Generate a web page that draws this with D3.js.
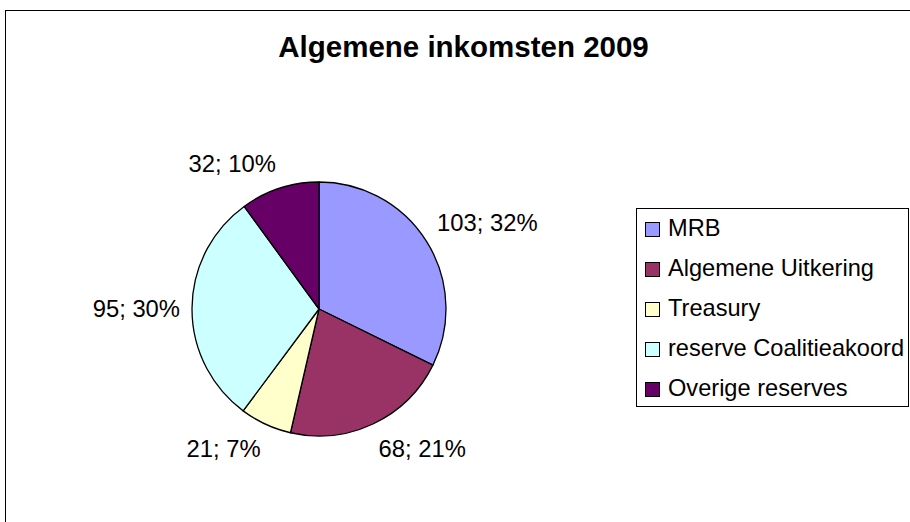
<!DOCTYPE html>
<html>
<head>
<meta charset="utf-8">
<script src="https://cdn.jsdelivr.net/npm/d3@7"></script>
<style>
  html, body { margin: 0; padding: 0; background: #fff; }
  svg { display: block; }
  text { font-family: Arial, "Liberation Sans", sans-serif; fill: #000; }
</style>
</head>
<body>
<svg id="chart" width="910" height="522"></svg>
<script>
const title = "Algemene inkomsten 2009";
const categories = ["MRB", "Algemene Uitkering", "Treasury", "reserve Coalitieakoord", "Overige reserves"];
const values = [103, 68, 21, 95, 32];
const percentLabels = ["32%", "21%", "7%", "30%", "10%"];
const colors = ["#9999FF", "#993366", "#FFFFCC", "#CCFFFF", "#660066"];

const svg = d3.select("#chart");

// chart border
svg.append("rect")
  .attr("x", 5.5).attr("y", 10.5)
  .attr("width", 940).attr("height", 540)
  .attr("fill", "#fff").attr("stroke", "#000").attr("stroke-width", 1);

// title
svg.append("text")
  .attr("x", 463.5).attr("y", 57)
  .attr("text-anchor", "middle")
  .attr("font-size", 29.5).attr("font-weight", "bold")
  .text(title);

// pie
const cx = 319, cy = 309, r = 127;
const data = categories.map((c, i) => ({ name: c, value: values[i], pct: percentLabels[i], color: colors[i] }));
const pie = d3.pie().value(d => d.value).sort(null).startAngle(0).endAngle(2 * Math.PI);
const arcs = pie(data);
const arc = d3.arc().innerRadius(0).outerRadius(r);

const g = svg.append("g").attr("transform", `translate(${cx},${cy})`);
g.selectAll("path.slice").data(arcs).enter().append("path")
  .attr("class", "slice")
  .attr("d", arc)
  .attr("fill", d => d.data.color)
  .attr("stroke", "#000").attr("stroke-width", 1.3).attr("stroke-linejoin", "round");

// labels placed Excel-style: nearest corner of label box at anchor outside the pie
const anchorR = r + 12;
const fontSize = 23.8;
const clamp = v => Math.max(-1, Math.min(1, v));
arcs.forEach(a => {
  const mid = (a.startAngle + a.endAngle) / 2;
  const s = Math.sin(mid), c = Math.cos(mid);
  const ax = anchorR * s, ay = -anchorR * c;
  const t = g.append("text")
    .attr("font-size", fontSize)
    .attr("text-anchor", "middle")
    .attr("x", 0).attr("y", 0)
    .text(`${a.data.value}; ${a.data.pct}`);
  const bb = t.node().getBBox();
  const fx = clamp(s * 4), fy = clamp(c * 4);
  const bcx = ax + bb.width / 2 * fx;
  const bcy = ay - bb.height / 2 * fy;
  const baseOff = -(bb.y + bb.height / 2);
  t.attr("x", bcx).attr("y", bcy + baseOff);
});

// legend
const lg = svg.append("g");
lg.append("rect")
  .attr("x", 636.5).attr("y", 208.5)
  .attr("width", 272).attr("height", 198)
  .attr("fill", "#fff").attr("stroke", "#000").attr("stroke-width", 1);
const rowY = d3.scalePoint().domain(categories).range([229.5, 389.5]);
categories.forEach((name, i) => {
  const y = rowY(name);
  lg.append("rect")
    .attr("x", 645.5).attr("y", y - 7)
    .attr("width", 14).attr("height", 14)
    .attr("fill", colors[i]).attr("stroke", "#000").attr("stroke-width", 1);
  lg.append("text")
    .attr("x", 668).attr("y", y + 6.5)
    .attr("font-size", 23.6)
    .text(name);
});
</script>
</body>
</html>
